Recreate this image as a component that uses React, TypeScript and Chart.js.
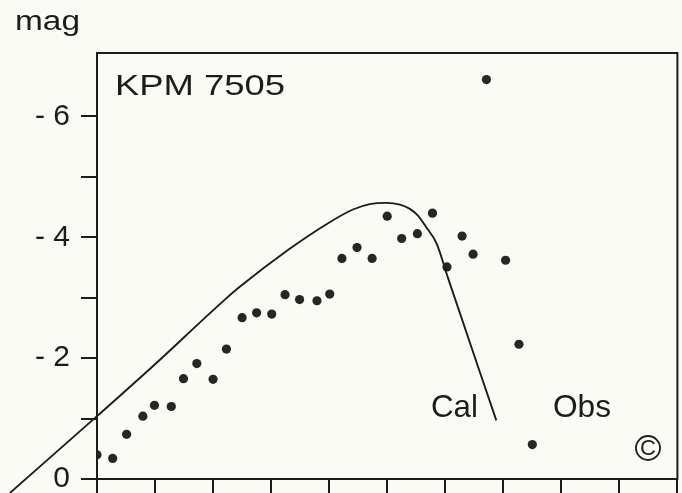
import React, { useEffect, useRef } from "react";
import { Chart, registerables } from "chart.js";

Chart.register(...registerables);

// Observed light curve (Obs)
const obsX = [0, 0.27, 0.51, 0.79, 0.99, 1.28, 1.49, 1.72, 2.0, 2.23, 2.5, 2.75, 3.01, 3.24, 3.49, 3.79, 4.01, 4.22, 4.48, 4.74, 5.0, 5.25, 5.52, 5.78, 6.03, 6.29, 6.48, 6.71, 7.04, 7.27, 7.5];
const obsMag = [-0.4, -0.34, -0.74, -1.04, -1.22, -1.2, -1.66, -1.91, -1.65, -2.15, -2.67, -2.75, -2.73, -3.05, -2.97, -2.95, -3.06, -3.65, -3.83, -3.65, -4.35, -3.98, -4.06, -4.4, -3.51, -4.02, -3.72, -6.61, -3.62, -2.23, -0.57];

// Calculated curve (Cal)
const calX = [-1.5, 0, 1.0, 2.17, 2.46, 3.29, 4.01, 4.41, 4.7, 4.99, 5.22, 5.39, 5.53, 5.67, 5.85, 6.05, 6.88];
const calMag = [0.23, -1.04, -1.9, -2.94, -3.18, -3.79, -4.25, -4.46, -4.55, -4.57, -4.54, -4.47, -4.36, -4.17, -3.9, -3.32, -0.97];

const xTicks = [0, 1, 2, 3, 4, 5, 6, 7, 8, 9, 10];
const yTicks = [0, -1, -2, -3, -4, -5, -6];
const yLabelled = [0, -2, -4, -6];

const INK = "#1c1c1c";
const BG = "#fbfbf6";
const FONT = "'Liberation Sans', 'DejaVu Sans', sans-serif";

function fitText(ctx: CanvasRenderingContext2D, text: string, x: number, baseline: number, width: number) {
  const w = ctx.measureText(text).width;
  ctx.save();
  ctx.translate(x, baseline);
  ctx.scale(width / w, 1);
  ctx.fillText(text, 0, 0);
  ctx.restore();
}

const decorPlugin = {
  id: "decor",
  beforeDraw(chart: any) {
    const { ctx, width, height } = chart;
    ctx.save();
    ctx.fillStyle = BG;
    ctx.fillRect(0, 0, width, height);
    ctx.restore();
  },
  afterDraw(chart: any) {
    const { ctx, chartArea } = chart;
    ctx.save();
    ctx.strokeStyle = INK;
    ctx.lineWidth = 2;
    ctx.strokeRect(chartArea.left, chartArea.top, chartArea.right - chartArea.left, chartArea.bottom - chartArea.top);
    ctx.fillStyle = INK;
    ctx.textAlign = "left";
    ctx.textBaseline = "alphabetic";
    ctx.font = `27px ${FONT}`;
    fitText(ctx, "mag", 15, 30, 65);
    ctx.font = `30px ${FONT}`;
    fitText(ctx, "KPM 7505", 115, 95, 170);
    ctx.font = `32px ${FONT}`;
    fitText(ctx, "Cal", 431, 417, 47);
    fitText(ctx, "Obs", 553, 417, 58);
    // copyright sign
    ctx.lineWidth = 1.8;
    ctx.beginPath();
    ctx.arc(648, 448, 12, 0, Math.PI * 2);
    ctx.stroke();
    ctx.font = `22px ${FONT}`;
    ctx.textAlign = "center";
    ctx.textBaseline = "middle";
    ctx.fillText("C", 648, 449);
    ctx.restore();
  },
};

export default function App() {
  const ref = useRef<HTMLCanvasElement | null>(null);
  useEffect(() => {
    if (!ref.current) return;
    const chart = new Chart(ref.current, {
      type: "scatter",
      data: {
        datasets: [
          {
            label: "Cal",
            data: calX.map((x, i) => ({ x, y: calMag[i] })),
            showLine: true,
            borderColor: INK,
            borderWidth: 1.9,
            pointRadius: 0,
            cubicInterpolationMode: "monotone",
            clip: false as any,
          },
          {
            label: "Obs",
            data: obsX.map((x, i) => ({ x, y: obsMag[i] })),
            showLine: false,
            backgroundColor: "#262626",
            borderColor: "#262626",
            pointRadius: 4.6,
            pointBorderWidth: 0,
          },
        ],
      },
      options: {
        animation: false,
        responsive: false,
        maintainAspectRatio: false,
        layout: { padding: { top: 53, right: 4, left: 0, bottom: 0 } },
        plugins: { legend: { display: false }, tooltip: { enabled: false } },
        scales: {
          x: {
            type: "linear",
            min: 0,
            max: 10,
            afterBuildTicks: (s: any) => {
              s.ticks = xTicks.map((v) => ({ value: v }));
            },
            afterFit: (s: any) => {
              s.height = 14;
              s.paddingLeft = 0;
              s.paddingRight = 0;
            },
            ticks: { display: false },
            grid: { drawOnChartArea: false, drawTicks: true, tickLength: 14, color: INK, lineWidth: 2 },
            border: { display: true, color: INK, width: 2 },
          },
          y: {
            type: "linear",
            min: -7.05,
            max: 0,
            reverse: true,
            afterBuildTicks: (s: any) => {
              s.ticks = yTicks.map((v) => ({ value: v }));
            },
            afterFit: (s: any) => {
              s.width = 97;
              s.paddingTop = 0;
              s.paddingBottom = 0;
            },
            ticks: {
              color: INK,
              padding: 11,
              font: { size: 30, family: FONT },
              callback: (v: any) => {
                const n = Number(v);
                if (!yLabelled.includes(n)) return "";
                return n === 0 ? "0" : "- " + Math.abs(n);
              },
            },
            grid: { drawOnChartArea: false, drawTicks: true, tickLength: 16, color: INK, lineWidth: 2 },
            border: { display: true, color: INK, width: 2 },
          },
        },
      },
      plugins: [decorPlugin],
    });
    return () => chart.destroy();
  }, []);
  return (
    <div style={{ position: "fixed", left: 0, top: 0, width: 682, height: 493, background: BG }}>
      <canvas ref={ref} width={682} height={493} style={{ display: "block", width: 682, height: 493 }} />
    </div>
  );
}
